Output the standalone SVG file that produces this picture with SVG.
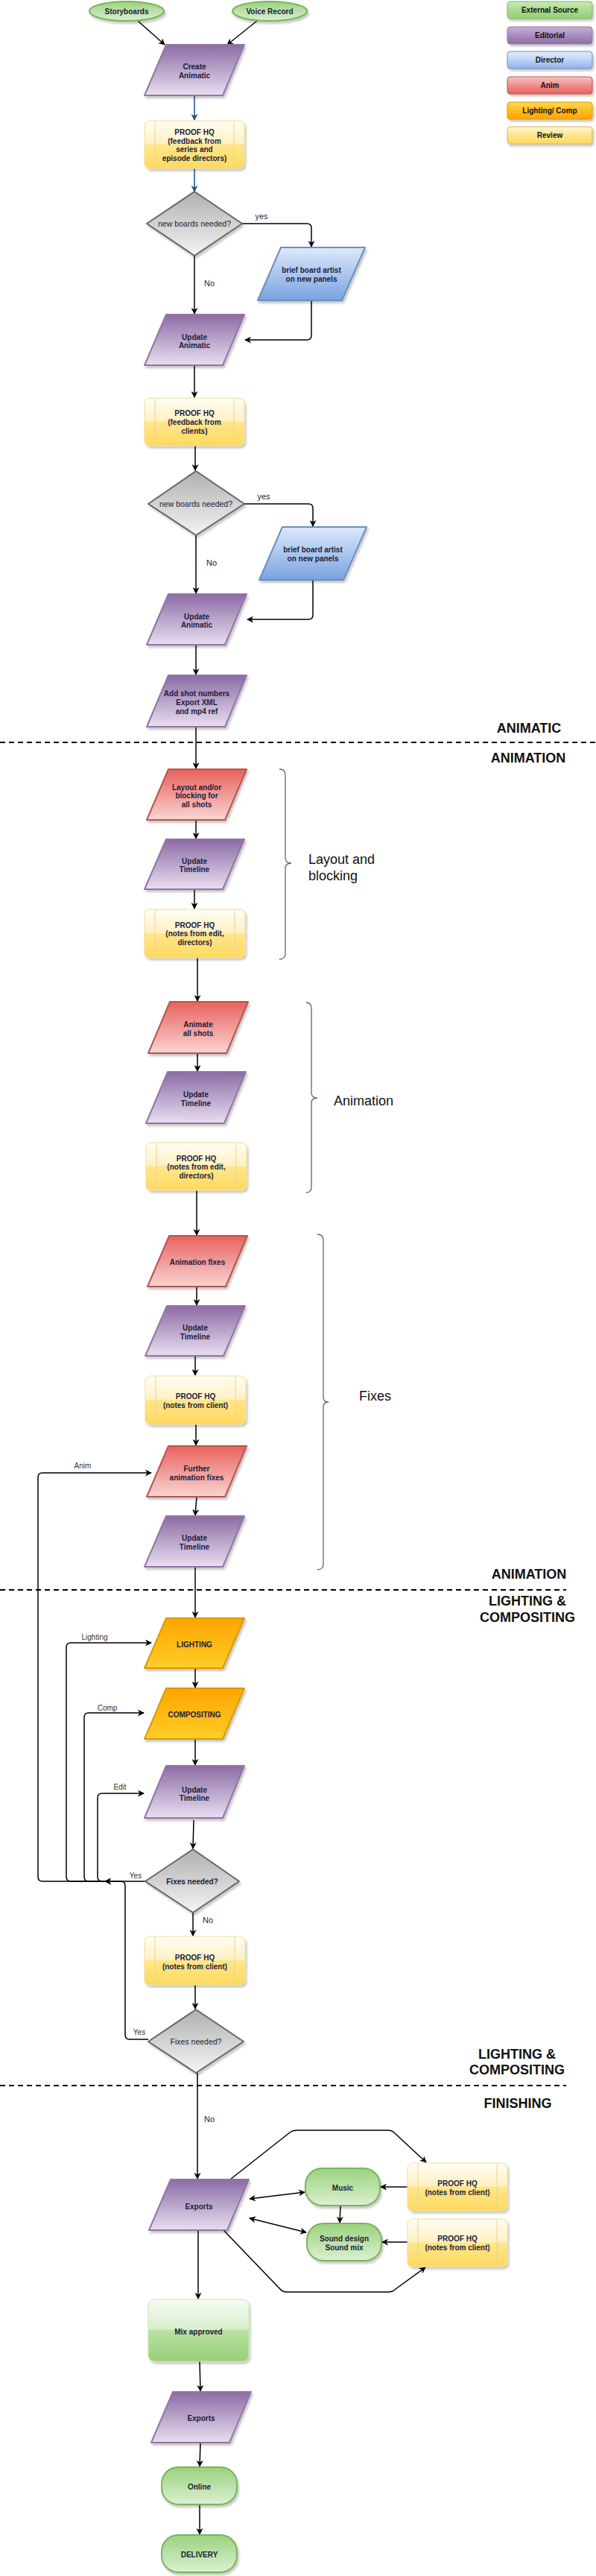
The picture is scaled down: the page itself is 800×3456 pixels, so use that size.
<svg xmlns="http://www.w3.org/2000/svg" width="800" height="3456" viewBox="0 0 800 3456">
<defs>
<linearGradient id="gP" x1="0" y1="0" x2="0" y2="1"><stop offset="0" stop-color="#8b6ca5"/><stop offset="1" stop-color="#e8def0"/></linearGradient>
<linearGradient id="gR" x1="0" y1="0" x2="0" y2="1"><stop offset="0" stop-color="#e8625d"/><stop offset="1" stop-color="#f9d4d2"/></linearGradient>
<linearGradient id="gB" x1="0" y1="0" x2="0" y2="1"><stop offset="0" stop-color="#dce9fc"/><stop offset="1" stop-color="#7aa3df"/></linearGradient>
<linearGradient id="gO" x1="0" y1="0" x2="0" y2="1"><stop offset="0" stop-color="#ffa500"/><stop offset="1" stop-color="#ffcd28"/></linearGradient>
<linearGradient id="gG" x1="0" y1="0" x2="0" y2="1"><stop offset="0" stop-color="#9ad27e"/><stop offset="1" stop-color="#dcf0d2"/></linearGradient>
<linearGradient id="gD" x1="0" y1="0" x2="0" y2="1"><stop offset="0" stop-color="#b0b0b0"/><stop offset="1" stop-color="#f4f4f4"/></linearGradient>
<linearGradient id="gY" x1="0" y1="0" x2="0" y2="1"><stop offset="0" stop-color="#fffdf4"/><stop offset="0.48" stop-color="#fff1c2"/><stop offset="0.5" stop-color="#ffe68c"/><stop offset="1" stop-color="#ffd95e"/></linearGradient>
<linearGradient id="gM" x1="0" y1="0" x2="0" y2="1"><stop offset="0" stop-color="#f5fbf2"/><stop offset="0.48" stop-color="#d9efcd"/><stop offset="0.5" stop-color="#b9e2a3"/><stop offset="1" stop-color="#97d077"/></linearGradient>
<linearGradient id="lG" x1="0" y1="0" x2="0" y2="1"><stop offset="0" stop-color="#c9e9b6"/><stop offset="0.5" stop-color="#a9db8f"/><stop offset="1" stop-color="#92cf74"/></linearGradient>
<linearGradient id="lP" x1="0" y1="0" x2="0" y2="1"><stop offset="0" stop-color="#c6b3d6"/><stop offset="0.5" stop-color="#a68cbd"/><stop offset="1" stop-color="#8e70a8"/></linearGradient>
<linearGradient id="lB" x1="0" y1="0" x2="0" y2="1"><stop offset="0" stop-color="#e4eefd"/><stop offset="0.5" stop-color="#bcd3f5"/><stop offset="1" stop-color="#8fb2e6"/></linearGradient>
<linearGradient id="lR" x1="0" y1="0" x2="0" y2="1"><stop offset="0" stop-color="#f7c6c4"/><stop offset="0.5" stop-color="#ef8e8a"/><stop offset="1" stop-color="#e8625d"/></linearGradient>
<linearGradient id="lO" x1="0" y1="0" x2="0" y2="1"><stop offset="0" stop-color="#ffd75e"/><stop offset="0.5" stop-color="#ffbb1c"/><stop offset="1" stop-color="#ffa500"/></linearGradient>
<linearGradient id="lY" x1="0" y1="0" x2="0" y2="1"><stop offset="0" stop-color="#fff6d5"/><stop offset="0.5" stop-color="#ffe48a"/><stop offset="1" stop-color="#ffd95e"/></linearGradient>
<filter id="sh" x="-10%" y="-10%" width="130%" height="130%"><feDropShadow dx="2" dy="3" stdDeviation="1.5" flood-color="#000" flood-opacity="0.22"/></filter>
<marker id="a" viewBox="0 0 10 10" refX="9" refY="5" markerWidth="9" markerHeight="9" markerUnits="userSpaceOnUse" orient="auto-start-reverse"><path d="M0,0 L10,5 L0,10 L3,5 z" fill="#000"/></marker>
<marker id="ab" viewBox="0 0 10 10" refX="9" refY="5" markerWidth="9" markerHeight="9" markerUnits="userSpaceOnUse" orient="auto-start-reverse"><path d="M0,0 L10,5 L0,10 L3,5 z" fill="#1f4e8c"/></marker>
<style>
text{font-family:"Liberation Sans",Arial,sans-serif}
.t{font-size:10px;font-weight:bold;fill:#1c1c3a;text-anchor:middle}
.tr{font-size:10.5px;fill:#1c1c3a;text-anchor:middle}
.lb{font-size:11px;fill:#1c1c3a;text-anchor:middle}
.sm{font-size:10px;fill:#333;text-anchor:middle}
.sec{font-size:18px;font-weight:bold;fill:#111;text-anchor:middle}
.br{font-size:18px;fill:#111}
.lg{font-size:10px;font-weight:bold;fill:#111;text-anchor:middle}
.pu{fill:url(#gP);stroke:#9673a6;stroke-width:2;stroke-linejoin:round;filter:url(#sh)}
.re{fill:url(#gR);stroke:#b85450;stroke-width:2;stroke-linejoin:round;filter:url(#sh)}
.bl{fill:url(#gB);stroke:#6c8ebf;stroke-width:2;stroke-linejoin:round;filter:url(#sh)}
.or{fill:url(#gO);stroke:#d79b00;stroke-width:2;stroke-linejoin:round;filter:url(#sh)}
.gr{fill:url(#gG);stroke:#78b55c;stroke-width:2;filter:url(#sh)}
.di{fill:url(#gD);stroke:#666;stroke-width:2;stroke-linejoin:round;filter:url(#sh)}
.ye{fill:url(#gY);stroke:#f2dc95;stroke-width:1;filter:url(#sh)}
.yl{stroke:#e9d38f;stroke-width:1}
.mx{fill:url(#gM);stroke:#c7e6b6;stroke-width:1;filter:url(#sh)}
.c{fill:none;stroke:#000;stroke-width:1.5;marker-end:url(#a)}
.cb{fill:none;stroke:#1f4e8c;stroke-width:1.5;marker-end:url(#ab)}
.cn{fill:none;stroke:#000;stroke-width:1.5}
.dd{fill:none;stroke:#000;stroke-width:2;stroke-dasharray:7 5}
.bc{fill:none;stroke:#666;stroke-width:1.3}
</style>
</defs>
<rect width="800" height="3456" fill="#fff"/>

<g id="legend">
<g id="lg-ext"><rect x="681" y="2" width="114" height="23" rx="4" fill="url(#lG)" stroke="#82b366" filter="url(#sh)"/><text class="lg" x="738" y="17">External Source</text></g>
<g id="lg-edit"><rect x="681" y="36" width="114" height="23" rx="4" fill="url(#lP)" stroke="#9673a6" filter="url(#sh)"/><text class="lg" x="738" y="51">Editorial</text></g>
<g id="lg-dir"><rect x="681" y="69" width="114" height="23" rx="4" fill="url(#lB)" stroke="#6c8ebf" filter="url(#sh)"/><text class="lg" x="738" y="84">Director</text></g>
<g id="lg-anim"><rect x="681" y="103" width="114" height="23" rx="4" fill="url(#lR)" stroke="#b85450" filter="url(#sh)"/><text class="lg" x="738" y="118">Anim</text></g>
<g id="lg-light"><rect x="681" y="137" width="114" height="23" rx="4" fill="url(#lO)" stroke="#d79b00" filter="url(#sh)"/><text class="lg" x="738" y="152">Lighting/ Comp</text></g>
<g id="lg-rev"><rect x="681" y="170" width="114" height="23" rx="4" fill="url(#lY)" stroke="#d6b656" filter="url(#sh)"/><text class="lg" x="738" y="185">Review</text></g>
</g>

<g id="sections">
<line class="dd" x1="0" y1="996" x2="800" y2="996"/>
<line class="dd" x1="0" y1="2133" x2="760" y2="2133"/>
<line class="dd" x1="0" y1="2798" x2="760" y2="2798"/>
<text class="sec" x="710" y="983">ANIMATIC</text>
<text class="sec" x="709" y="1023">ANIMATION</text>
<text class="sec" x="710" y="2118">ANIMATION</text>
<text class="sec" x="708" y="2154">LIGHTING &amp;</text>
<text class="sec" x="708" y="2176">COMPOSITING</text>
<text class="sec" x="694" y="2762">LIGHTING &amp;</text>
<text class="sec" x="694" y="2783">COMPOSITING</text>
<text class="sec" x="695" y="2828">FINISHING</text>
</g>

<g id="braces">
<path class="bc" d="M375,1032 Q383,1032 383,1040 V1151 Q383,1158 391,1158 Q383,1158 383,1165 V1279 Q383,1287 375,1287"/>
<text class="br" x="414" y="1159">Layout and</text>
<text class="br" x="414" y="1181">blocking</text>
<path class="bc" d="M411,1345 Q418,1345 418,1353 V1466 Q418,1473 426,1473 Q418,1473 418,1480 V1592 Q418,1600 411,1600"/>
<text class="br" x="448" y="1483">Animation</text>
<path class="bc" d="M426,1656 Q434,1656 434,1664 V1874 Q434,1881 441,1881 Q434,1881 434,1888 V2098 Q434,2106 426,2106"/>
<text class="br" x="482" y="1879">Fixes</text>
</g>

<g id="connectors">
<path class="c" d="M185,28 L221,60"/>
<path class="c" d="M345,28 L305,60"/>
<path class="cb" d="M261,128 V161"/>
<path class="cb" d="M261,226 V257"/>
<path class="c" d="M325,300 H412 Q418,300 418,306 V331"/>
<text class="lb" x="351" y="294">yes</text>
<path class="c" d="M418,403 V450 Q418,456 412,456 H329"/>
<path class="c" d="M261,343 V421"/>
<text class="lb" x="281" y="384">No</text>
<path class="c" d="M261,490 V533"/>
<path class="c" d="M262,598 V631"/>
<path class="c" d="M328,676 H414 Q420,676 420,682 V706"/>
<text class="lb" x="354" y="670">yes</text>
<path class="c" d="M420,778 V825 Q420,831 414,831 H332"/>
<path class="c" d="M263,718 V796"/>
<text class="lb" x="284" y="759">No</text>
<path class="c" d="M263,865 V905"/>
<path class="c" d="M263,975 V1031"/>
<path class="c" d="M263,1100 V1125"/>
<path class="c" d="M261,1193 V1219"/>
<path class="c" d="M265,1285 V1343"/>
<path class="c" d="M265,1413 V1437"/>
<path class="c" d="M264,1597 V1657"/>
<path class="c" d="M264,1726 V1751"/>
<path class="c" d="M262,1819 V1845"/>
<path class="c" d="M263,1911 V1939"/>
<path class="c" d="M264,2008 L262,2033"/>
<path class="c" d="M262,2102 V2170"/>
<path class="c" d="M262,2238 V2264"/>
<path class="c" d="M262,2333 V2368"/>
<path class="c" d="M260,2442 L259,2480"/>
<path class="c" d="M195,2524 H141"/>
<text class="sm" x="182" y="2520">Yes</text>
<path class="c" d="M141,2524 H57 Q51,2524 51,2518 V1982 Q51,1976 57,1976 H203"/>
<text class="sm" x="111" y="1970">Anim</text>
<path class="c" d="M141,2524 H95 Q89,2524 89,2518 V2210 Q89,2204 95,2204 H203"/>
<text class="sm" x="127" y="2200">Lighting</text>
<path class="c" d="M141,2524 H119 Q113,2524 113,2518 V2304 Q113,2298 119,2298 H193"/>
<text class="sm" x="144" y="2295">Comp</text>
<path class="c" d="M141,2524 H137 Q131,2524 131,2518 V2412 Q131,2406 137,2406 H193"/>
<text class="sm" x="161" y="2401">Edit</text>
<path class="c" d="M259,2566 V2597"/>
<text class="lb" x="279" y="2580">No</text>
<path class="c" d="M262,2663 V2695"/>
<path class="c" d="M199,2736 H174 Q168,2736 168,2730 V2530 Q168,2524 162,2524 H141"/>
<text class="sm" x="187" y="2730">Yes</text>
<path class="c" d="M265,2781 V2923"/>
<text class="lb" x="281" y="2847">No</text>
<path class="c" d="M309,2924 L389,2861 Q393,2858 398,2858 H521 Q526,2858 530,2862 L572,2901"/>
<path class="c" d="M300,2992 L375,3070 Q379,3075 385,3075 H521 Q527,3075 531,3071 L571,3042"/>
<path class="c" d="M335,2950 L409,2941" marker-start="url(#a)"/>
<path class="c" d="M335,2976 L411,2995" marker-start="url(#a)"/>
<path class="c" d="M547,2934 H511"/>
<path class="c" d="M457,2959 L456,2982"/>
<path class="c" d="M547,3008 H513"/>
<path class="c" d="M266,2992 V3084"/>
<path class="c" d="M268,3168 L269,3208"/>
<path class="c" d="M269,3277 L268,3309"/>
<path class="c" d="M268,3360 V3400"/>
</g>

<g id="n-storyboards"><ellipse class="gr" cx="170" cy="15" rx="50" ry="13"/><text class="t" x="170" y="18.5">Storyboards</text></g>
<g id="n-voice"><ellipse class="gr" cx="362" cy="15" rx="50" ry="13"/><text class="t" x="362" y="18.5">Voice Record</text></g>
<g id="n-create"><polygon class="pu" points="223,60 328,60 299,128 194,128"/><text class="t" x="261" y="93">Create</text><text class="t" x="261" y="105">Animatic</text></g>
<g id="n-proof1"><rect class="ye" x="194" y="162" width="134" height="64" rx="7"/><line class="yl" x1="208" y1="163" x2="208" y2="225"/><line class="yl" x1="314" y1="163" x2="314" y2="225"/><text class="t" x="261" y="181">PROOF HQ</text><text class="t" x="261" y="192.5">(feedback from</text><text class="t" x="261" y="204">series and</text><text class="t" x="261" y="215.5">episode directors)</text></g>
<g id="n-dec1"><polygon class="di" points="261,257 325,300 261,343 197,300"/><text class="tr" x="261" y="303.5">new boards needed?</text></g>
<g id="n-brief1"><polygon class="bl" points="377,332 490,332 459,403 346,403"/><text class="t" x="418" y="365.5">brief board artist</text><text class="t" x="418" y="377.5">on new panels</text></g>
<g id="n-upd1"><polygon class="pu" points="223,422 328,422 299,490 194,490"/><text class="t" x="261" y="455.5">Update</text><text class="t" x="261" y="467">Animatic</text></g>
<g id="n-proof2"><rect class="ye" x="194" y="534" width="134" height="64" rx="7"/><line class="yl" x1="208" y1="535" x2="208" y2="597"/><line class="yl" x1="314" y1="535" x2="314" y2="597"/><text class="t" x="261" y="558">PROOF HQ</text><text class="t" x="261" y="570">(feedback from</text><text class="t" x="261" y="582">clients)</text></g>
<g id="n-dec2"><polygon class="di" points="263,632 328,676 263,718 199,676"/><text class="tr" x="263" y="679.5">new boards needed?</text></g>
<g id="n-brief2"><polygon class="bl" points="379,707 492,707 461,778 348,778"/><text class="t" x="420" y="740.5">brief board artist</text><text class="t" x="420" y="752.5">on new panels</text></g>
<g id="n-upd2"><polygon class="pu" points="226,797 331,797 302,865 197,865"/><text class="t" x="264" y="830.5">Update</text><text class="t" x="264" y="842">Animatic</text></g>
<g id="n-shots"><polygon class="pu" points="226,906 331,906 302,975 197,975"/><text class="t" x="264" y="933.5">Add shot numbers</text><text class="t" x="264" y="945.5">Export XML</text><text class="t" x="264" y="957.5">and mp4 ref</text></g>
<g id="n-layout"><polygon class="re" points="226,1032 331,1032 302,1100 197,1100"/><text class="t" x="264" y="1059.5">Layout and/or</text><text class="t" x="264" y="1071">blocking for</text><text class="t" x="264" y="1082.5">all shots</text></g>
<g id="n-tl1"><polygon class="pu" points="223,1126 328,1126 299,1193 194,1193"/><text class="t" x="261" y="1158.5">Update</text><text class="t" x="261" y="1170">Timeline</text></g>
<g id="n-proof3"><rect class="ye" x="194" y="1220" width="135" height="65" rx="7"/><line class="yl" x1="208" y1="1221" x2="208" y2="1284"/><line class="yl" x1="315" y1="1221" x2="315" y2="1284"/><text class="t" x="261.5" y="1244.5">PROOF HQ</text><text class="t" x="261.5" y="1256">(notes from edit,</text><text class="t" x="261.5" y="1267.5">directors)</text></g>
<g id="n-animate"><polygon class="re" points="228,1344 333,1344 304,1413 199,1413"/><text class="t" x="266" y="1377.5">Animate</text><text class="t" x="266" y="1389.5">all shots</text></g>
<g id="n-tl2"><polygon class="pu" points="225,1438 330,1438 301,1507 196,1507"/><text class="t" x="263" y="1471.5">Update</text><text class="t" x="263" y="1483.5">Timeline</text></g>
<g id="n-proof4"><rect class="ye" x="196" y="1533" width="135" height="64" rx="7"/><line class="yl" x1="210" y1="1534" x2="210" y2="1596"/><line class="yl" x1="317" y1="1534" x2="317" y2="1596"/><text class="t" x="263.5" y="1557.5">PROOF HQ</text><text class="t" x="263.5" y="1569">(notes from edit,</text><text class="t" x="263.5" y="1580.5">directors)</text></g>
<g id="n-fixes"><polygon class="re" points="227,1658 332,1658 303,1726 198,1726"/><text class="t" x="265" y="1696.5">Animation fixes</text></g>
<g id="n-tl3"><polygon class="pu" points="224,1752 329,1752 300,1819 195,1819"/><text class="t" x="262" y="1784.5">Update</text><text class="t" x="262" y="1796.5">Timeline</text></g>
<g id="n-proof5"><rect class="ye" x="195" y="1846" width="135" height="65" rx="7"/><line class="yl" x1="209" y1="1847" x2="209" y2="1910"/><line class="yl" x1="316" y1="1847" x2="316" y2="1910"/><text class="t" x="262.5" y="1876.5">PROOF HQ</text><text class="t" x="262.5" y="1888.5">(notes from client)</text></g>
<g id="n-further"><polygon class="re" points="226,1940 331,1940 302,2008 197,2008"/><text class="t" x="264" y="1973.5">Further</text><text class="t" x="264" y="1985.5">animation fixes</text></g>
<g id="n-tl4"><polygon class="pu" points="223,2034 328,2034 299,2102 194,2102"/><text class="t" x="261" y="2066.5">Update</text><text class="t" x="261" y="2078.5">Timeline</text></g>
<g id="n-lighting"><polygon class="or" points="223,2171 328,2171 299,2238 194,2238"/><text class="t" x="261" y="2209.5">LIGHTING</text></g>
<g id="n-comp"><polygon class="or" points="223,2265 328,2265 299,2333 194,2333"/><text class="t" x="261" y="2303.5">COMPOSITING</text></g>
<g id="n-tl5"><polygon class="pu" points="223,2369 328,2369 299,2439 194,2439"/><text class="t" x="261" y="2404.5">Update</text><text class="t" x="261" y="2415.5">Timeline</text></g>
<g id="n-dec3"><polygon class="di" points="259,2481 321,2524 259,2566 195,2524"/><text class="t" x="258" y="2527.5">Fixes needed?</text></g>
<g id="n-proof6"><rect class="ye" x="194" y="2598" width="135" height="65" rx="7"/><line class="yl" x1="208" y1="2599" x2="208" y2="2662"/><line class="yl" x1="315" y1="2599" x2="315" y2="2662"/><text class="t" x="261.5" y="2629.5">PROOF HQ</text><text class="t" x="261.5" y="2641.5">(notes from client)</text></g>
<g id="n-dec4"><polygon class="di" points="263,2696 327,2739 263,2781 199,2739"/><text class="tr" x="263" y="2742.5">Fixes needed?</text></g>
<g id="n-exports1"><polygon class="pu" points="229,2924 334,2924 305,2992 200,2992"/><text class="t" x="267" y="2963.5">Exports</text></g>
<g id="n-music"><rect class="gr" x="410" y="2909" width="100" height="50" rx="22"/><text class="t" x="460" y="2938.5">Music</text></g>
<g id="n-proof7"><rect class="ye" x="547" y="2902" width="134" height="64" rx="7"/><line class="yl" x1="561" y1="2903" x2="561" y2="2965"/><line class="yl" x1="667" y1="2903" x2="667" y2="2965"/><text class="t" x="614" y="2932.5">PROOF HQ</text><text class="t" x="614" y="2944.5">(notes from client)</text></g>
<g id="n-sound"><rect class="gr" x="412" y="2983" width="100" height="50" rx="22"/><text class="t" x="462" y="3006.5">Sound design</text><text class="t" x="462" y="3018.5">Sound mix</text></g>
<g id="n-proof8"><rect class="ye" x="547" y="2977" width="134" height="64" rx="7"/><line class="yl" x1="561" y1="2978" x2="561" y2="3040"/><line class="yl" x1="667" y1="2978" x2="667" y2="3040"/><text class="t" x="614" y="3006.5">PROOF HQ</text><text class="t" x="614" y="3018.5">(notes from client)</text></g>
<g id="n-mix"><rect class="mx" x="199" y="3085" width="135" height="83" rx="8"/><text class="t" x="266.5" y="3131.5">Mix approved</text></g>
<g id="n-exports2"><polygon class="pu" points="232,3209 337,3209 308,3277 203,3277"/><text class="t" x="270" y="3247.5">Exports</text></g>
<g id="n-online"><rect class="gr" x="217" y="3310" width="101" height="50" rx="22"/><text class="t" x="267.5" y="3339.5">Online</text></g>
<g id="n-delivery"><rect class="gr" x="217" y="3401" width="101" height="50" rx="22"/><text class="t" x="267.5" y="3430.5">DELIVERY</text></g>
</svg>
